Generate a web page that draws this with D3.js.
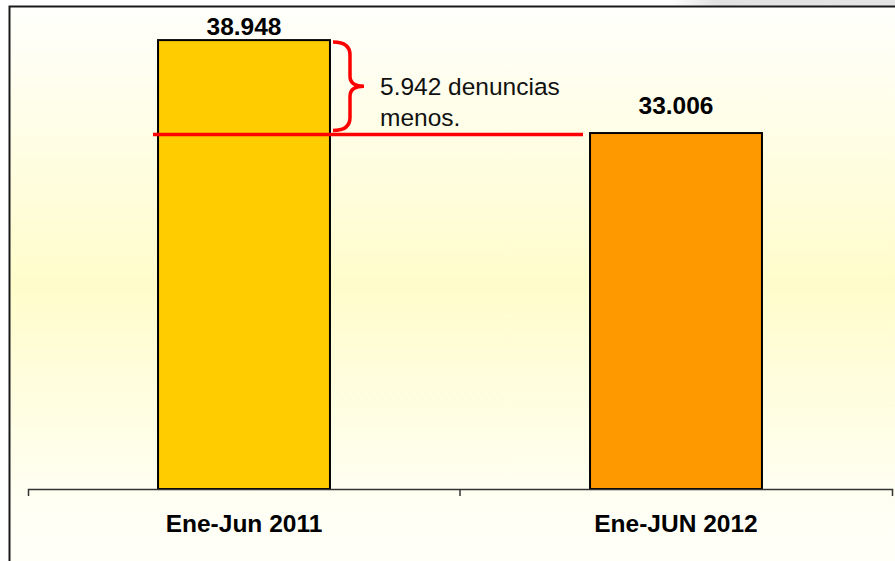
<!DOCTYPE html>
<html>
<head>
<meta charset="utf-8">
<script src="https://cdn.jsdelivr.net/npm/d3@7"></script>
<style>
  body { margin: 0; background: #fff; }
  svg { display: block; font-family: Arial, "Liberation Sans", sans-serif; }
</style>
</head>
<body>
<div id="chart"></div>
<script>
// Chart data
var categories = ["Ene-Jun 2011", "Ene-JUN 2012"];
var values = [38948, 33006];
var valueLabels = ["38.948", "33.006"];
var barColors = ["#FFCC00", "#FF9900"];
var noteLines = ["5.942 denuncias", "menos."];

var svgWidth = 895;
var svgHeight = 561;

var svg = d3.select("#chart")
  .append("svg")
  .attr("width", svgWidth)
  .attr("height", svgHeight);

// Background gradient
var defs = svg.append("defs");
var grad = defs.append("linearGradient")
  .attr("id", "bg")
  .attr("x1", 0).attr("y1", 0)
  .attr("x2", 0).attr("y2", 1);
grad.append("stop").attr("offset", "0%").attr("stop-color", "#FFFFFC");
grad.append("stop").attr("offset", "48%").attr("stop-color", "#FFFCCB");
grad.append("stop").attr("offset", "88%").attr("stop-color", "#FFFFF6");
grad.append("stop").attr("offset", "100%").attr("stop-color", "#FFFFF8");

// faint grey strip at the top right
var strip = defs.append("linearGradient").attr("id", "strip");
strip.append("stop").attr("offset", "0%").attr("stop-color", "#FFFFFF");
strip.append("stop").attr("offset", "75%").attr("stop-color", "#FFFFFF");
strip.append("stop").attr("offset", "80%").attr("stop-color", "#E2E2E2");
strip.append("stop").attr("offset", "100%").attr("stop-color", "#E4E4E4");
svg.append("rect")
  .attr("x", 0).attr("y", 0)
  .attr("width", svgWidth).attr("height", 6)
  .attr("fill", "url(#strip)");

// Frame
svg.append("rect")
  .attr("x", 9.5).attr("y", 6.5)
  .attr("width", svgWidth + 20).attr("height", svgHeight + 20)
  .attr("fill", "url(#bg)")
  .attr("stroke", "#1a1a1a")
  .attr("stroke-width", 2);

// Scales
var x = d3.scaleBand()
  .domain(categories)
  .range([28, 892])
  .padding(0);

var y = d3.scaleLinear()
  .domain([10250, 41000])
  .range([489, 8]);

var barWidth = x.bandwidth() * 0.398;

// Bars
svg.selectAll(".bar")
  .data(values)
  .enter()
  .append("rect")
  .attr("class", "bar")
  .attr("x", (d, i) => x(categories[i]) + (x.bandwidth() - barWidth) / 2)
  .attr("y", d => y(d))
  .attr("width", barWidth)
  .attr("height", d => y.range()[0] - y(d))
  .attr("fill", (d, i) => barColors[i])
  .attr("stroke", "#000")
  .attr("stroke-width", 2);

// Axis
var xAxis = svg.append("g")
  .attr("transform", "translate(0, 489)")
  .call(d3.axisBottom(x).tickSize(0).tickSizeOuter(7).tickFormat(""));
xAxis.select(".domain").attr("stroke", "#333").attr("stroke-width", 1.5);

// tick between the categories
xAxis.append("line")
  .attr("x1", x(categories[1])).attr("x2", x(categories[1]))
  .attr("y1", 0).attr("y2", 7)
  .attr("stroke", "#333")
  .attr("stroke-width", 1.5);

// Category labels
svg.selectAll(".cat")
  .data(categories)
  .enter()
  .append("text")
  .attr("class", "cat")
  .attr("x", d => x(d) + x.bandwidth() / 2)
  .attr("y", 532)
  .attr("text-anchor", "middle")
  .attr("font-size", 24.5)
  .attr("font-weight", "bold")
  .attr("fill", "#000")
  .text(d => d);

// Value labels
var labelOffsets = [5, 19];
svg.selectAll(".val")
  .data(values)
  .enter()
  .append("text")
  .attr("class", "val")
  .attr("x", (d, i) => x(categories[i]) + x.bandwidth() / 2)
  .attr("y", (d, i) => y(d) - labelOffsets[i])
  .attr("text-anchor", "middle")
  .attr("font-size", 24.5)
  .attr("font-weight", "bold")
  .attr("fill", "#000")
  .text((d, i) => valueLabels[i]);

// Red reference line at the 2012 level
var yRef = y(values[1]) + 1.5;
svg.append("line")
  .attr("x1", 153).attr("x2", 583)
  .attr("y1", yRef).attr("y2", yRef)
  .attr("stroke", "#FF0000")
  .attr("stroke-width", 3.5);

// Brace between the two levels
var bTop = y(values[0]) + 2;
var bBot = yRef - 4;
var bMid = (bTop + bBot) / 2;
var bx = 333;
var bracePath = d3.path();
bracePath.moveTo(bx, bTop);
bracePath.quadraticCurveTo(bx + 17, bTop, bx + 17, bTop + 13);
bracePath.lineTo(bx + 17, bMid - 10);
bracePath.quadraticCurveTo(bx + 17, bMid, bx + 31, bMid);
bracePath.quadraticCurveTo(bx + 17, bMid, bx + 17, bMid + 10);
bracePath.lineTo(bx + 17, bBot - 13);
bracePath.quadraticCurveTo(bx + 17, bBot, bx, bBot);
svg.append("path")
  .attr("d", bracePath.toString())
  .attr("fill", "none")
  .attr("stroke", "#FF0000")
  .attr("stroke-width", 3.5);

// Note text
svg.selectAll(".note")
  .data(noteLines)
  .enter()
  .append("text")
  .attr("class", "note")
  .attr("x", 380)
  .attr("y", (d, i) => 95 + i * 31)
  .attr("font-size", 24.5)
  .attr("fill", "#111")
  .text(d => d);
</script>
</body>
</html>
